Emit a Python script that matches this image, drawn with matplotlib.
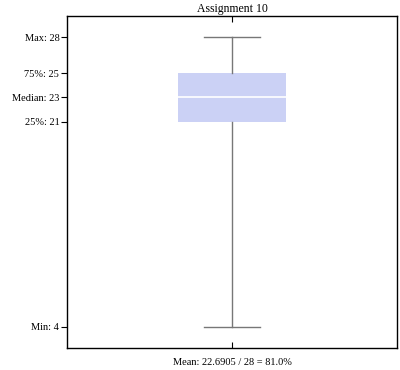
import matplotlib
matplotlib.use("Agg")
import matplotlib.pyplot as plt

# Summary numbers
title = "Assignment 10"
stat_min = 4
stat_q1 = 21
stat_median = 23
stat_q3 = 25
stat_max = 28
mean_score = 22.6905
max_points = 28

tick_values = [stat_min, stat_q1, stat_median, stat_q3, stat_max]
tick_labels = ["Min: 4", "25%: 21", "Median: 23", "75%: 25", "Max: 28"]

plt.rcParams['font.family'] = ['Liberation Serif', 'DejaVu Serif']

fig = plt.figure(figsize=(4.0, 3.7), dpi=100)
ax = fig.add_axes([67 / 400, 1 - 348 / 370, 330 / 400, 332 / 370])

stats = [{
    'med': stat_median, 'q1': stat_q1, 'q3': stat_q3,
    'whislo': stat_min, 'whishi': stat_max, 'fliers': [],
}]
ax.bxp(stats, positions=[0], widths=0.33, patch_artist=True,
       showfliers=False,
       boxprops=dict(facecolor='#cbd1f5', edgecolor='none'),
       medianprops=dict(color='white', linewidth=1.2),
       whiskerprops=dict(color='#777777', linewidth=1),
       capprops=dict(color='#777777', linewidth=1),
       capwidths=0.167)

ax.set_xlim(-0.5, 0.5)
pad = (stat_max - stat_min) * 0.0725
ax.set_ylim(stat_min - pad, stat_max + pad)

ax.set_yticks(tick_values)
ax.set_yticklabels(tick_labels, fontsize=7.5)
ax.tick_params(axis='y', direction='out', length=4, width=0.8, pad=1.5, right=False)
ax.set_xticks([0])
ax.set_xticklabels([''])
ax.tick_params(axis='x', direction='in', length=4, width=0.8, top=True)

pct = mean_score / max_points * 100
ax.set_xlabel(f"Mean: {mean_score:.4f} / {max_points} = {pct:.1f}%", fontsize=7.5, labelpad=4)
ax.set_title(title, fontsize=8.5, pad=3)

for s in ax.spines.values():
    s.set_linewidth(1)

fig.savefig("out.png", dpi=100)
